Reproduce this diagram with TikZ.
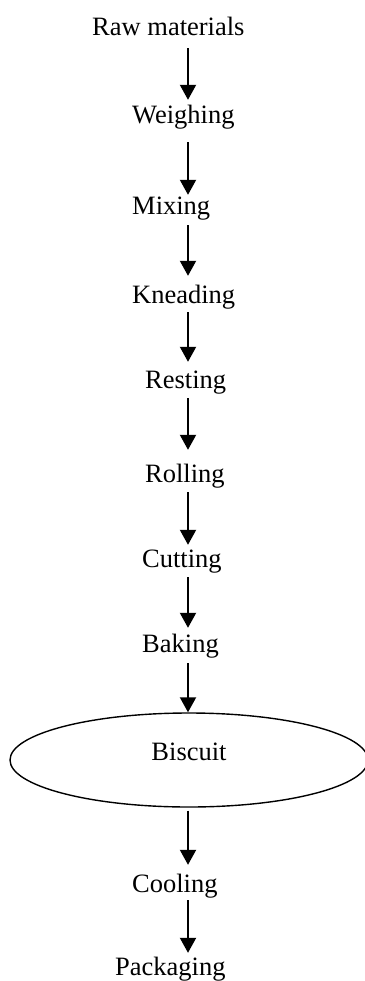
\documentclass[tikz,border=0pt]{standalone}
\usepackage{fontspec}
\setmainfont{Liberation Serif}
\usetikzlibrary{arrows.meta,shapes.geometric}
\begin{document}
\begin{tikzpicture}[x=1pt,y=-1pt,
  stage/.style={anchor=base west,inner sep=0pt,text height=17pt,text depth=0pt,
    font=\fontsize{26.5}{30}\selectfont},
  flow/.style={line width=2pt,-{Triangle[width=16pt,length=15pt]}},
  product/.style={draw,ellipse,line width=1.4pt,minimum width=358pt,minimum height=94pt,
    inner sep=0pt,text height=18pt,text depth=18pt,font=\fontsize{26.5}{30}\selectfont}]
  \useasboundingbox (0,0) rectangle (364,981);
  \coordinate (ax) at (188,0);

  % process stages
  \node[stage] (raw)   at (92,36)   {Raw materials};
  \node[stage] (weigh) at (132,124) {Weighing};
  \node[stage] (mix)   at (132,215) {Mixing};
  \node[stage] (knead) at (132,303) {Kneading};
  \node[stage] (rest)  at (145,388) {Resting};
  \node[stage] (roll)  at (145,482) {Rolling};
  \node[stage] (cut)   at (142,567) {Cutting};
  \node[stage] (bake)  at (142,652) {Baking};
  \node[product] (biscuit) at (189,760) {Biscuit};
  \node[stage] (cool)  at (132,892) {Cooling};
  \node[stage] (pack)  at (115,975) {Packaging};

  % arrows down the central axis
  \draw[flow,shorten <=12pt,shorten >=7pt]  (raw.south -| ax)   -- (weigh.north -| ax);
  \draw[flow,shorten <=18pt,shorten >=3pt]  (weigh.south -| ax) -- (mix.north -| ax);
  \draw[flow,shorten <=10pt,shorten >=10pt] (mix.south -| ax)   -- (knead.north -| ax);
  \draw[flow,shorten <=9pt,shorten >=9pt]   (knead.south -| ax) -- (rest.north -| ax);
  \draw[flow,shorten <=10pt,shorten >=15pt] (rest.south -| ax)  -- (roll.north -| ax);
  \draw[flow,shorten <=10pt,shorten >=5pt]  (roll.south -| ax)  -- (cut.north -| ax);
  \draw[flow,shorten <=10pt,shorten >=7pt]  (cut.south -| ax)   -- (bake.north -| ax);
  \draw[flow,shorten <=11pt]                (bake.south -| ax)  -- (biscuit.north -| ax);
  \draw[flow,shorten <=3pt,shorten >=10pt]  (biscuit.south -| ax) -- (cool.north -| ax);
  \draw[flow,shorten <=8pt,shorten >=5pt]   (cool.south -| ax)  -- (pack.north -| ax);
\end{tikzpicture}
\end{document}
